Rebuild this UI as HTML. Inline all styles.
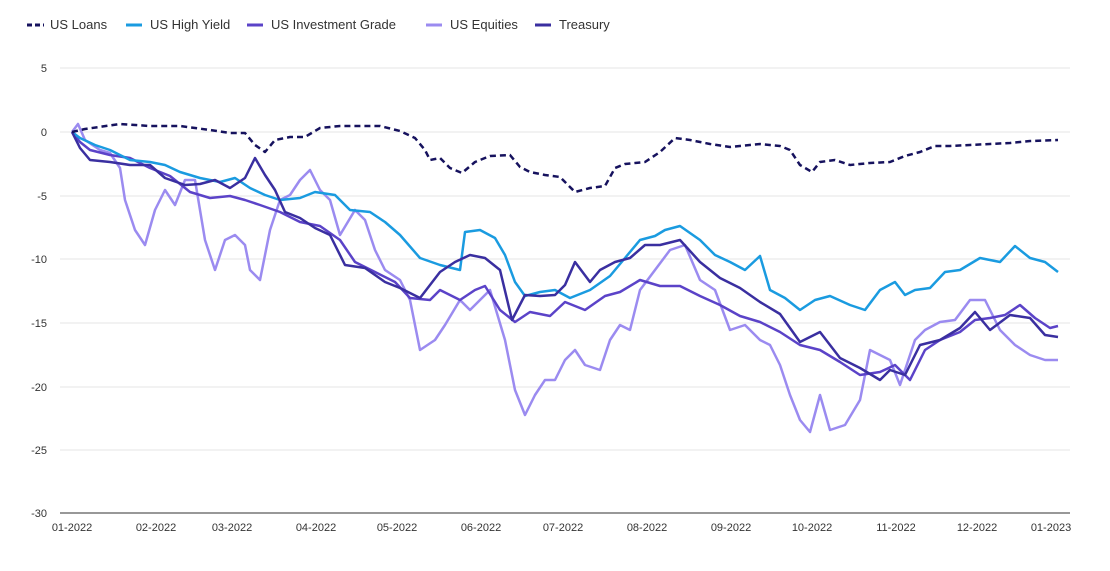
<!DOCTYPE html>
<html><head><meta charset="utf-8"><style>
body{margin:0;background:#fff;width:1110px;height:566px;overflow:hidden;font-family:"Liberation Sans",sans-serif}
svg text{font-family:"Liberation Sans",sans-serif;font-size:11px;fill:#333}
</style></head><body>
<svg width="1110" height="566" viewBox="0 0 1110 566">
<g font-size="13">
<line x1="27" y1="25" x2="44" y2="25" stroke="#16125e" stroke-width="3" stroke-dasharray="5,3"/><text x="50" y="29" style="font-size:13px">US Loans</text>
<line x1="126" y1="25" x2="142" y2="25" stroke="#1a9be0" stroke-width="3"/><text x="150" y="29" style="font-size:13px">US High Yield</text>
<line x1="247" y1="25" x2="263" y2="25" stroke="#5b43c8" stroke-width="3"/><text x="271" y="29" style="font-size:13px">US Investment Grade</text>
<line x1="426" y1="25" x2="442" y2="25" stroke="#9b8bf0" stroke-width="3"/><text x="450" y="29" style="font-size:13px">US Equities</text>
<line x1="535" y1="25" x2="551" y2="25" stroke="#3a2fa0" stroke-width="3"/><text x="559" y="29" style="font-size:13px">Treasury</text>
</g>
<g stroke="#e6e6e6" stroke-width="1">
<line x1="60" y1="68" x2="1070" y2="68"/><line x1="60" y1="132" x2="1070" y2="132"/><line x1="60" y1="196" x2="1070" y2="196"/><line x1="60" y1="259" x2="1070" y2="259"/><line x1="60" y1="323" x2="1070" y2="323"/><line x1="60" y1="387" x2="1070" y2="387"/><line x1="60" y1="450" x2="1070" y2="450"/>
</g>
<line x1="60" y1="513" x2="1070" y2="513" stroke="#777" stroke-width="1.5"/>
<g text-anchor="end">
<text x="47" y="72">5</text><text x="47" y="136">0</text><text x="47" y="200">-5</text><text x="47" y="263">-10</text><text x="47" y="327">-15</text><text x="47" y="391">-20</text><text x="47" y="454">-25</text><text x="47" y="517">-30</text>
</g>
<g text-anchor="middle">
<text x="72" y="531">01-2022</text><text x="156" y="531">02-2022</text><text x="232" y="531">03-2022</text><text x="316" y="531">04-2022</text><text x="397" y="531">05-2022</text><text x="481" y="531">06-2022</text><text x="563" y="531">07-2022</text><text x="647" y="531">08-2022</text><text x="731" y="531">09-2022</text><text x="812" y="531">10-2022</text><text x="896" y="531">11-2022</text><text x="977" y="531">12-2022</text><text x="1051" y="531">01-2023</text>
</g>
<g fill="none" stroke-width="2.5" stroke-linejoin="round">
<polyline stroke="#9b8bf0" points="72,132 78,124 85,140 100,150 110,153 120,168 125,200 135,230 145,245 155,210 165,190 175,205 185,180 195,180 205,240 215,270 225,240 235,235 245,245 250,270 260,280 270,230 280,200 290,195 300,180 310,170 320,190 330,200 340,235 355,210 365,220 375,250 385,270 400,280 410,300 420,350 435,340 445,325 460,300 470,310 480,300 490,290 505,340 515,390 525,415 535,395 545,380 555,380 565,360 575,350 585,365 600,370 610,340 620,325 630,330 640,290 655,270 670,250 685,245 700,280 715,290 730,330 745,325 760,340 770,345 780,365 790,395 800,420 810,432 820,395 830,430 845,425 860,400 870,350 880,355 890,360 900,385 915,340 925,330 940,322 955,320 970,300 985,300 1000,330 1015,345 1030,355 1045,360 1058,360"/>
<polyline stroke="#5b43c8" points="72,132 80,142 90,150 110,155 130,158 150,168 170,176 190,192 210,198 230,196 245,200 260,205 280,212 300,222 320,226 340,240 355,262 375,272 395,282 410,298 430,300 440,290 460,300 475,290 485,286 500,310 515,322 530,312 550,316 565,302 585,310 605,296 620,292 640,280 660,286 680,286 700,296 720,305 740,316 760,322 780,332 800,345 820,350 840,362 860,375 880,372 895,365 910,380 925,350 940,340 960,332 975,320 990,318 1005,315 1020,305 1035,318 1050,328 1058,326"/>
<polyline stroke="#1a9be0" points="72,132 80,138 95,145 110,150 130,160 150,162 165,165 180,172 200,178 220,182 235,178 250,188 265,195 280,200 300,198 315,192 335,195 350,210 370,212 385,222 400,235 420,258 440,265 460,270 465,232 480,230 495,238 505,255 515,282 525,296 540,292 555,290 570,298 590,290 610,276 625,258 640,240 655,236 665,230 680,226 700,240 715,255 730,262 745,270 760,256 770,290 785,298 800,310 815,300 830,296 850,305 865,310 880,290 895,282 905,295 915,290 930,288 945,272 960,270 980,258 1000,262 1015,246 1030,258 1045,262 1058,272"/>
<polyline stroke="#3a2fa0" points="72,132 80,148 90,160 110,162 130,165 150,165 165,178 185,185 200,184 215,180 230,188 245,178 255,158 265,175 275,190 285,212 300,218 315,228 330,235 345,265 365,268 385,282 400,288 420,298 440,272 455,262 470,255 485,258 500,270 512,320 525,295 540,296 555,295 565,285 575,262 590,282 600,270 615,262 630,258 645,245 660,245 680,240 700,262 720,278 740,288 760,302 780,314 800,342 820,332 840,358 860,368 880,380 890,370 905,375 920,345 940,340 960,328 975,312 990,330 1010,315 1030,318 1045,335 1058,337"/>
<polyline stroke="#16125e" stroke-dasharray="6,4" points="72,132 85,129 120,124 150,126 180,126 210,130 230,133 245,133 255,145 265,152 275,140 290,137 305,137 320,128 340,126 380,126 400,131 415,138 425,150 430,160 440,158 450,168 462,173 475,162 490,156 510,155 520,167 530,172 545,175 560,177 575,192 590,188 605,186 615,168 625,164 645,162 660,152 675,138 690,140 710,144 730,147 760,144 780,146 790,150 800,165 812,172 820,162 835,160 850,165 870,163 890,162 905,156 920,152 935,146 950,146 970,145 990,144 1010,143 1030,141 1058,140"/>
</g>
</svg>
</body></html>
